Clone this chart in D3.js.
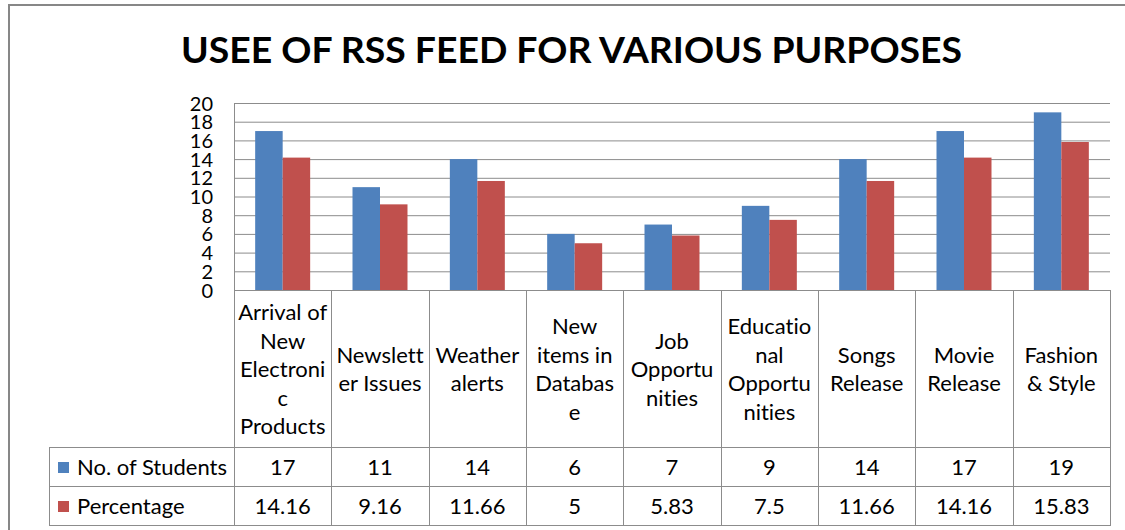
<!DOCTYPE html>
<html><head><meta charset="utf-8">
<script src="https://cdn.jsdelivr.net/npm/d3@7"></script>
<style>
html,body{margin:0;padding:0;background:#fff;}
svg{display:block;font-family:Lato, "Open Sans", sans-serif;font-variant-ligatures:none;font-feature-settings:"liga" 0;}
</style></head>
<body><svg id="c" width="1125" height="530"></svg>
<script>
const title = "USEE OF RSS FEED FOR VARIOUS PURPOSES";
const categories = [
  "Arrival of\nNew\nElectroni\nc\nProducts",
  "Newslett\ner Issues",
  "Weather\nalerts",
  "New\nitems in\nDatabas\ne",
  "Job\nOpportu\nnities",
  "Educatio\nnal\nOpportu\nnities",
  "Songs\nRelease",
  "Movie\nRelease",
  "Fashion\n& Style"
];
const seriesNames = ["No. of Students", "Percentage"];
const students = [17, 11, 14, 6, 7, 9, 14, 17, 19];
const percentage = [14.16, 9.16, 11.66, 5, 5.83, 7.5, 11.66, 14.16, 15.83];
const studentLabels = ["17","11","14","6","7","9","14","17","19"];
const percentageLabels = ["14.16","9.16","11.66","5","5.83","7.5","11.66","14.16","15.83"];
const yTicks = [0,2,4,6,8,10,12,14,16,18,20];
const colors = ["#4F81BD", "#C0504D"];

const svg = d3.select("#c");
const L = 234, R = 1110, T = 103, B = 290;
const rowTop = 447, rowH = 39, tableLeft = 49;
const grid = "#8c8c8c";
const fs = 22;

// outer frame
svg.append("path").attr("d", "M9,530 V5 H1125").attr("fill","none").attr("stroke","#878787").attr("stroke-width",2);

// title
svg.append("text").attr("x", 571.5).attr("y", 63).attr("text-anchor","middle")
  .attr("font-size", 37).attr("font-weight","bold").attr("fill","#000")
  .attr("textLength", 781).attr("lengthAdjust","spacingAndGlyphs").text(title);

const y = d3.scaleLinear().domain([0,20]).range([B, T]);
const cols = d3.scaleBand().domain(d3.range(categories.length)).range([L, R]).padding(0);
const x0 = d3.scaleBand().domain(d3.range(categories.length)).range([L, R]).paddingInner(0.435).paddingOuter(0.2175);
const x1 = d3.scaleBand().domain([0,1]).range([0, x0.bandwidth()]);

// gridlines
svg.append("g").selectAll("line").data(yTicks.filter(d=>d>0)).join("line")
  .attr("x1", L).attr("x2", R).attr("y1", d=>y(d)+0.5).attr("y2", d=>y(d)+0.5)
  .attr("stroke", grid).attr("stroke-width",1);

// y axis labels
const yAxis = d3.axisLeft(y).tickValues(yTicks).tickSize(0).tickPadding(0);
const ga = svg.append("g").attr("transform", `translate(213,0)`).call(yAxis);
ga.select(".domain").remove();
ga.selectAll("text").attr("font-size", 20).attr("font-family","Lato, sans-serif").attr("fill","#000").attr("dy","0.35em");

// bars
const series = [students, percentage];
series.forEach((vals, si) => {
  svg.append("g").selectAll("rect").data(vals).join("rect")
    .attr("x", (d,i) => x0(i) + x1(si))
    .attr("y", d => y(d))
    .attr("width", x1.bandwidth())
    .attr("height", d => B - y(d))
    .attr("fill", colors[si]);
});

// plot left border
svg.append("line").attr("x1", L+0.5).attr("x2", L+0.5).attr("y1", T).attr("y2", rowTop+2*rowH).attr("stroke", grid);
// axis line
svg.append("line").attr("x1", L).attr("x2", R+1).attr("y1", B+0.5).attr("y2", B+0.5).attr("stroke", grid);

// table column lines
const bounds = categories.map((c,i)=>cols(i)).concat([R]);
svg.append("g").selectAll("line").data(bounds.slice(1)).join("line")
  .attr("x1", d=>Math.round(d)+0.5).attr("x2", d=>Math.round(d)+0.5)
  .attr("y1", B).attr("y2", rowTop+2*rowH+1).attr("stroke", grid);
// table row lines
[rowTop, rowTop+rowH, rowTop+2*rowH].forEach(yy => {
  svg.append("line").attr("x1", tableLeft).attr("x2", R+1).attr("y1", yy+0.5).attr("y2", yy+0.5).attr("stroke", grid);
});
svg.append("line").attr("x1", tableLeft+0.5).attr("x2", tableLeft+0.5).attr("y1", rowTop).attr("y2", rowTop+2*rowH+1).attr("stroke", grid);

// category labels
const lineH = 28.5;
categories.forEach((c,i) => {
  const lines = c.split("\n");
  const cx = cols(i) + cols.bandwidth()/2;
  const cy = (B + rowTop)/2 + 1;
  const t = svg.append("text").attr("text-anchor","middle").attr("font-size",fs).attr("fill","#000");
  lines.forEach((ln,k) => {
    t.append("tspan").attr("x", cx).attr("y", cy + (k - (lines.length-1)/2)*lineH).attr("dy","0.35em").text(ln);
  });
});

// table rows
const rowLabels = [studentLabels, percentageLabels];
rowLabels.forEach((labels, ri) => {
  const cy = rowTop + rowH*ri + rowH/2 + 0.5;
  svg.append("rect").attr("x", 58).attr("y", cy-5).attr("width", 11).attr("height", 11).attr("fill", colors[ri]);
  svg.append("text").attr("x", 77).attr("y", cy).attr("dy","0.35em").attr("font-size",fs).attr("fill","#000").text(seriesNames[ri]);
  svg.append("g").selectAll("text").data(labels).join("text")
    .attr("x", (d,i)=>cols(i)+cols.bandwidth()/2).attr("y", cy).attr("dy","0.35em")
    .attr("text-anchor","middle").attr("font-size",fs).attr("fill","#000").text(d=>d);
});
</script></body></html>
